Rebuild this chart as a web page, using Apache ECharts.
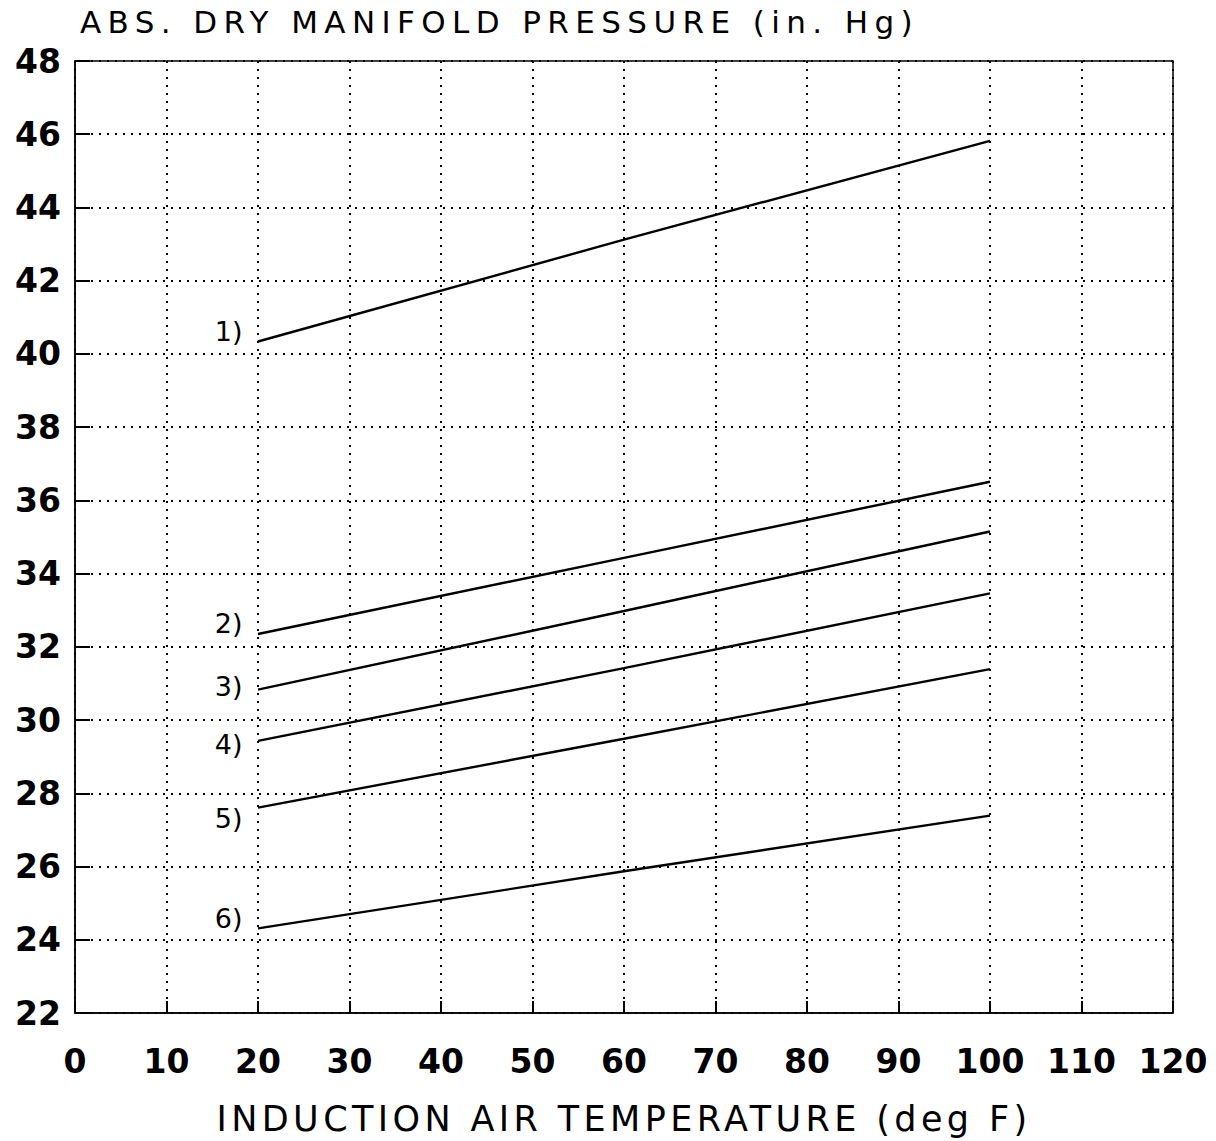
<!DOCTYPE html>
<html>
<head>
<meta charset="utf-8">
<script src="https://cdn.jsdelivr.net/npm/echarts@6/dist/echarts.min.js"></script>
<style>
  html, body { margin: 0; padding: 0; background: #ffffff; }
  #chart { width: 1216px; height: 1141px; }
  #chart text[style*="31px"] { letter-spacing: 6.4px; }
  #chart text[style*="35px"] { letter-spacing: 4.4px; }
</style>
</head>
<body>
<div id="chart"></div>
<script>
// ---- data ----
const temperatures = [20, 60, 100];
const curve1 = [40.34, 43.12, 45.82];
const curve2 = [32.35, 34.43, 36.51];
const curve3 = [30.83, 32.98, 35.15];
const curve4 = [29.43, 31.42, 33.46];
const curve5 = [27.61, 29.49, 31.39];
const curve6 = [24.31, 25.87, 27.39];
const curveLabels = ['1)', '2)', '3)', '4)', '5)', '6)'];
const curves = [curve1, curve2, curve3, curve4, curve5, curve6];
const titleText = 'ABS. DRY MANIFOLD PRESSURE (in. Hg)';
const xAxisName = 'INDUCTION AIR TEMPERATURE (deg F)';

// ---- styling ----
const FONT = 'DejaVu Sans';
const labelShift = [-10, -11, -3, 4, 11, -10];

const chart = echarts.init(document.getElementById('chart'), null, { renderer: 'svg' });

const series = curves.map((vals, si) => ({
  type: 'line',
  name: curveLabels[si],
  symbol: 'circle',
  symbolSize: 1,
  showSymbol: true,
  itemStyle: { color: 'rgba(0,0,0,0)' },
  smooth: false,
  lineStyle: { color: '#000', width: 2.4 },
  data: vals.map((v, i) => {
    if (i === 0) {
      return {
        value: [temperatures[i], v],
        label: {
          show: true,
          position: 'left',
          distance: 15,
          offset: [0, labelShift[si]],
          formatter: curveLabels[si],
          fontFamily: FONT,
          fontSize: 27,
          color: '#000'
        }
      };
    }
    return [temperatures[i], v];
  }),
  silent: true,
  animation: false
}));

const splitStyle = { color: '#000', width: 2, type: [2, 6] };

chart.setOption({
  animation: false,
  backgroundColor: '#ffffff',
  title: {
    text: titleText,
    left: 80,
    top: 6,
    padding: 0,
    textStyle: { fontFamily: FONT, fontSize: 31, fontWeight: 'normal', color: '#000' }
  },
  grid: {
    left: 75, right: 43, top: 61, bottom: 123,
    show: true, borderColor: '#000', borderWidth: 1.5, backgroundColor: 'transparent'
  },
  xAxis: {
    type: 'value',
    min: 0, max: 120, interval: 10,
    name: xAxisName,
    nameLocation: 'middle',
    nameGap: 88,
    nameTextStyle: { fontFamily: FONT, fontSize: 35, color: '#000' },
    axisLine: { show: true, lineStyle: { color: '#000', width: 1.5 } },
    axisTick: { show: true, inside: true, length: 12, lineStyle: { color: '#000', width: 2 } },
    axisLabel: { margin: 32, fontFamily: FONT, fontSize: 33, fontWeight: 'bold', color: '#000' },
    splitLine: { show: true, lineStyle: splitStyle }
  },
  yAxis: {
    type: 'value',
    min: 22, max: 48, interval: 2,
    axisLine: { show: true, lineStyle: { color: '#000', width: 1.5 } },
    axisTick: { show: true, inside: true, length: 15, lineStyle: { color: '#000', width: 2 } },
    axisLabel: { margin: 14, fontFamily: FONT, fontSize: 33, fontWeight: 'bold', color: '#000' },
    splitLine: { show: true, lineStyle: splitStyle }
  },
  series: series
});
</script>
</body>
</html>
